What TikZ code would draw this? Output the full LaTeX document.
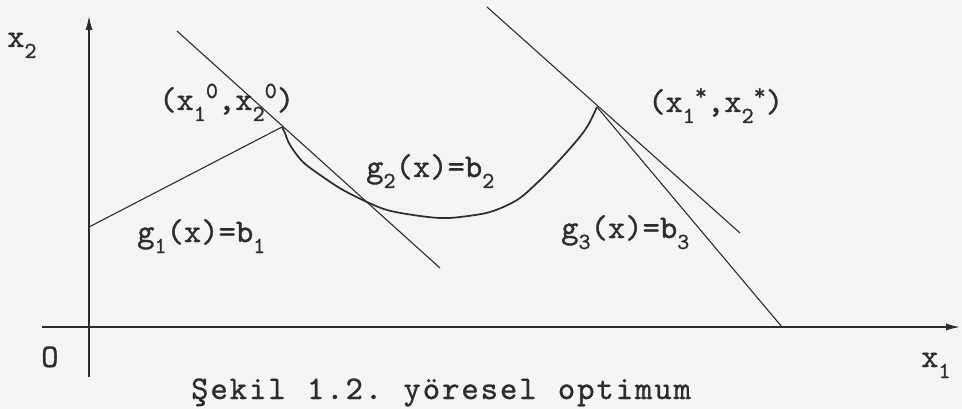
\documentclass[tikz,border=0pt]{standalone}
\usepackage{fontspec}
\newfontfamily\tw{lmmono10-regular}[Extension=.otf, FakeBold=0.9]
\usetikzlibrary{arrows.meta}
\definecolor{ink}{HTML}{2C2C2C}
\definecolor{paper}{HTML}{F3F4F4}
\newcommand\dn[1]{\raisebox{-11pt}{\fontsize{23}{23}\selectfont #1}}
\newcommand\up[1]{\raisebox{12pt}{\fontsize{23}{23}\selectfont #1}}
\newcommand\cc[1]{\makebox[19.3pt][l]{#1}}
\tikzset{
  axisline/.style={draw=ink, line width=1.4pt, -{Latex[length=14pt,width=7pt]}},
  thinline/.style={draw=ink, line width=1.1pt},
  curveline/.style={draw=ink, line width=1.7pt},
  lbl/.style={font=\tw\fontsize{33}{33}\selectfont, text=ink, inner sep=0pt, anchor=base west},
  caption/.style={font=\tw\fontsize{33}{33}\selectfont, text=ink, inner sep=0pt, anchor=base west}
}
\begin{document}
\begin{tikzpicture}[x=1pt,y=-1pt]
\fill[paper] (0,0) rectangle (962,409);
\useasboundingbox (0,0) rectangle (962,409);
% axes
\coordinate (xs) at (42,327);
\coordinate (xe) at (960,327);
\coordinate (ys) at (89,377);
\coordinate (ye) at (89,16);
\draw[axisline] (xs) -- (xe);
\draw[axisline] (ys) -- (ye);
% key points
\coordinate (A) at (89,227);
\coordinate (P0) at (282,127);
\coordinate (PS) at (597,107);
\coordinate (T1s) at (177,31);
\coordinate (T1e) at (440,268);
\coordinate (T2s) at (487,7);
\coordinate (T2e) at (740,233);
\coordinate (B) at (782,327);
% constraint g1
\draw[thinline] (A) -- (P0);
% tangent lines
\draw[thinline] (T1s) -- (T1e);
\draw[thinline] (T2s) -- (T2e);
% constraint g3
\draw[thinline] (PS) -- (B);
% curve g2
\draw[curveline] plot[smooth, tension=0.55] coordinates {(P0) (285,133) (290,145) (303,162) (323,177) (343,190) (367,202) (387,210) (413,215) (440,218) (460,217) (490,212) (517,200) (537,183) (553,167) (573,145) (587,127) (PS)};
% labels
\node[lbl] (lx2) at (7,47) {x\dn{2}};
\node[lbl] (lO) at (41,367) {O};
\node[lbl] (lx1) at (921,367) {x\dn{1}};
\node[lbl] (lp0) at (159,110) {(x\dn{1}\up{0},x\dn{2}\up{0})};
\node[lbl] (lps) at (648,112) {(x\dn{1}\up{*},x\dn{2}\up{*})};
\node[lbl] (lg1) at (137,242) {g\dn{1}(x)=b\dn{1}};
\node[lbl] (lg2) at (366,177) {g\dn{2}(x)=b\dn{2}};
\node[lbl] (lg3) at (561,238) {g\dn{3}(x)=b\dn{3}};
\node[caption] (cap) at (191,399) {\cc{Ş}\cc{e}\cc{k}\cc{i}\cc{l}\cc{ }\cc{1}\cc{.}\cc{2}\cc{.}\cc{ }\cc{y}\cc{ö}\cc{r}\cc{e}\cc{s}\cc{e}\cc{l}\cc{ }\cc{o}\cc{p}\cc{t}\cc{i}\cc{m}\cc{u}\cc{m}};
\end{tikzpicture}
\end{document}
